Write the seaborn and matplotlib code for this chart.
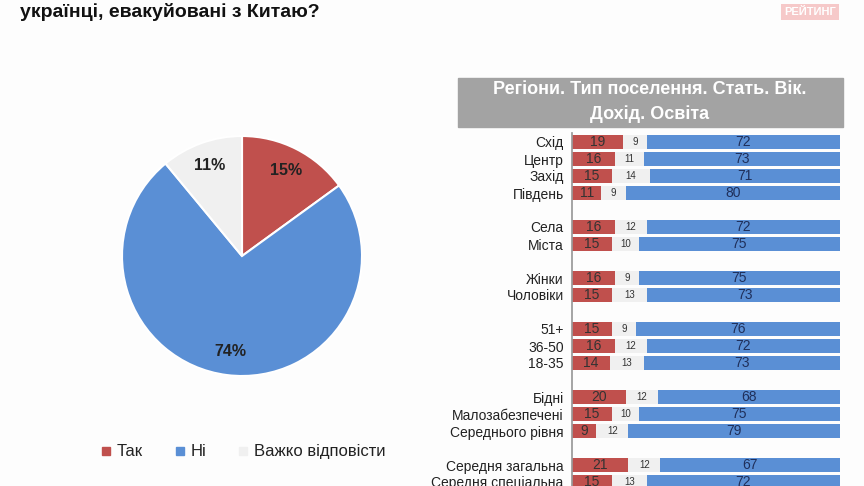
import matplotlib
matplotlib.use("Agg")
import matplotlib.pyplot as plt
import seaborn as sns
import pandas as pd
import numpy as np
from matplotlib.patches import Rectangle

sns.set_theme(style="white", font="Liberation Sans")

title = "українці, евакуйовані з Китаю?"
pie_labels = ["Так", "Ні", "Важко відповісти"]
pie_values = [15, 74, 11]

categories = ["Схід", "Центр", "Захід", "Південь", "", "Села", "Міста", "",
              "Жінки", "Чоловіки", "", "51+", "36-50", "18-35", "",
              "Бідні", "Малозабезпечені", "Середнього рівня", "",
              "Середня загальна", "Середня спеціальна"]
yes_vals = [19, 16, 15, 11, None, 16, 15, None, 16, 15, None, 15, 16, 14, None,
            20, 15, 9, None, 21, 15]
hard_vals = [9, 11, 14, 9, None, 12, 10, None, 9, 13, None, 9, 12, 13, None,
             12, 10, 12, None, 12, 13]
no_vals = [72, 73, 71, 80, None, 72, 75, None, 75, 73, None, 76, 72, 73, None,
           68, 75, 79, None, 67, 72]

RED, BLUE, GREY = "#c0504d", "#5a8fd5", "#f0f0f0"

fig = plt.figure(figsize=(8.64, 4.86), dpi=100)
fig.patch.set_facecolor("#fdfdfd")

fig.text(20/864, 1-12/486, title, fontsize=14, fontweight="bold", va="center", ha="left", color="#111")
fig.text(810/864, 1-12/486, "РЕЙТИНГ", fontsize=8, fontweight="bold", va="center", ha="center",
         color="white", bbox=dict(boxstyle="square,pad=0.3", fc="#f6c9c9", ec="none"))

# Pie
pax = fig.add_axes([(242-150)/864, 1-(256+150)/486, 300/864, 300/486])
wedges, texts = pax.pie(pie_values, colors=[RED, BLUE, GREY], startangle=90, counterclock=False,
                        wedgeprops=dict(linewidth=1.5, edgecolor="white"))
pax.set_aspect("equal")
for w, v in zip(wedges, pie_values):
    ang = np.deg2rad((w.theta1 + w.theta2) / 2)
    r = 0.8
    pax.text(r*np.cos(ang), r*np.sin(ang), f"{v}%", ha="center", va="center", fontsize=11.5,
             fontweight="bold", color="#222")

# Legend
lx = [106, 180, 243]
for x, c, lab in zip(lx, [RED, BLUE, GREY], pie_labels):
    fig.patches.append(Rectangle(((x-4)/864, 1-(451+4)/486), 8/864, 8/486, transform=fig.transFigure,
                                 color=c, figure=fig))
    fig.text((x+11)/864, 1-451/486, lab, fontsize=12, va="center", ha="left", color="#222")

# Header
fig.patches.append(Rectangle((458/864, 1-127/486), 385/864, 49/486, transform=fig.transFigure,
                             color="#a3a3a3", figure=fig))
fig.text(650/864, 1-90/486, "Регіони. Тип поселення. Стать. Вік.", fontsize=13, fontweight="bold",
         color="white", ha="center", va="center")
fig.text(650/864, 1-114/486, "Дохід. Освіта", fontsize=13, fontweight="bold",
         color="white", ha="center", va="center")

# Bars
n = len(categories)
ax = fig.add_axes([572/864, 1-490.5/486, 268/864, 357/486])
ax.set_facecolor("none")
rows = [i for i in range(n) if yes_vals[i] is not None]
df = pd.DataFrame({
    "pos": rows,
    "yes": [yes_vals[i] for i in rows],
    "hard": [hard_vals[i] for i in rows],
    "no": [no_vals[i] for i in rows],
})
df["yh"] = df["yes"] + df["hard"]
df["tot"] = df["yh"] + df["no"]
for col, c in [("tot", BLUE), ("yh", GREY), ("yes", RED)]:
    sns.barplot(data=df, x=col, y="pos", orient="y", native_scale=True, color=c, width=0.8,
                saturation=1, ax=ax, linewidth=0)
for _, r in df.iterrows():
    ax.text(r["yes"]/2, r["pos"], f"{int(r['yes'])}", ha="center", va="center", fontsize=10, color="#333")
    ax.text(r["yes"] + r["hard"]/2, r["pos"], f"{int(r['hard'])}", ha="center", va="center", fontsize=7, color="#333")
    ax.text(r["yh"] + r["no"]/2, r["pos"], f"{int(r['no'])}", ha="center", va="center", fontsize=10, color="#1f2f5a")
ax.set_ylim(n - 0.5, -0.5)
ax.set_xlim(0, 100)
ax.set_yticks(range(n))
ax.set_yticklabels(categories, fontsize=10, color="#222")
ax.tick_params(axis="y", length=0, pad=6, left=False)
ax.set_xticks([])
ax.set_xlabel("")
ax.set_ylabel("")
for s in ["top", "right", "bottom"]:
    ax.spines[s].set_visible(False)
ax.spines["left"].set_color("#999")

fig.savefig("out.png", dpi=100, facecolor=fig.get_facecolor())
